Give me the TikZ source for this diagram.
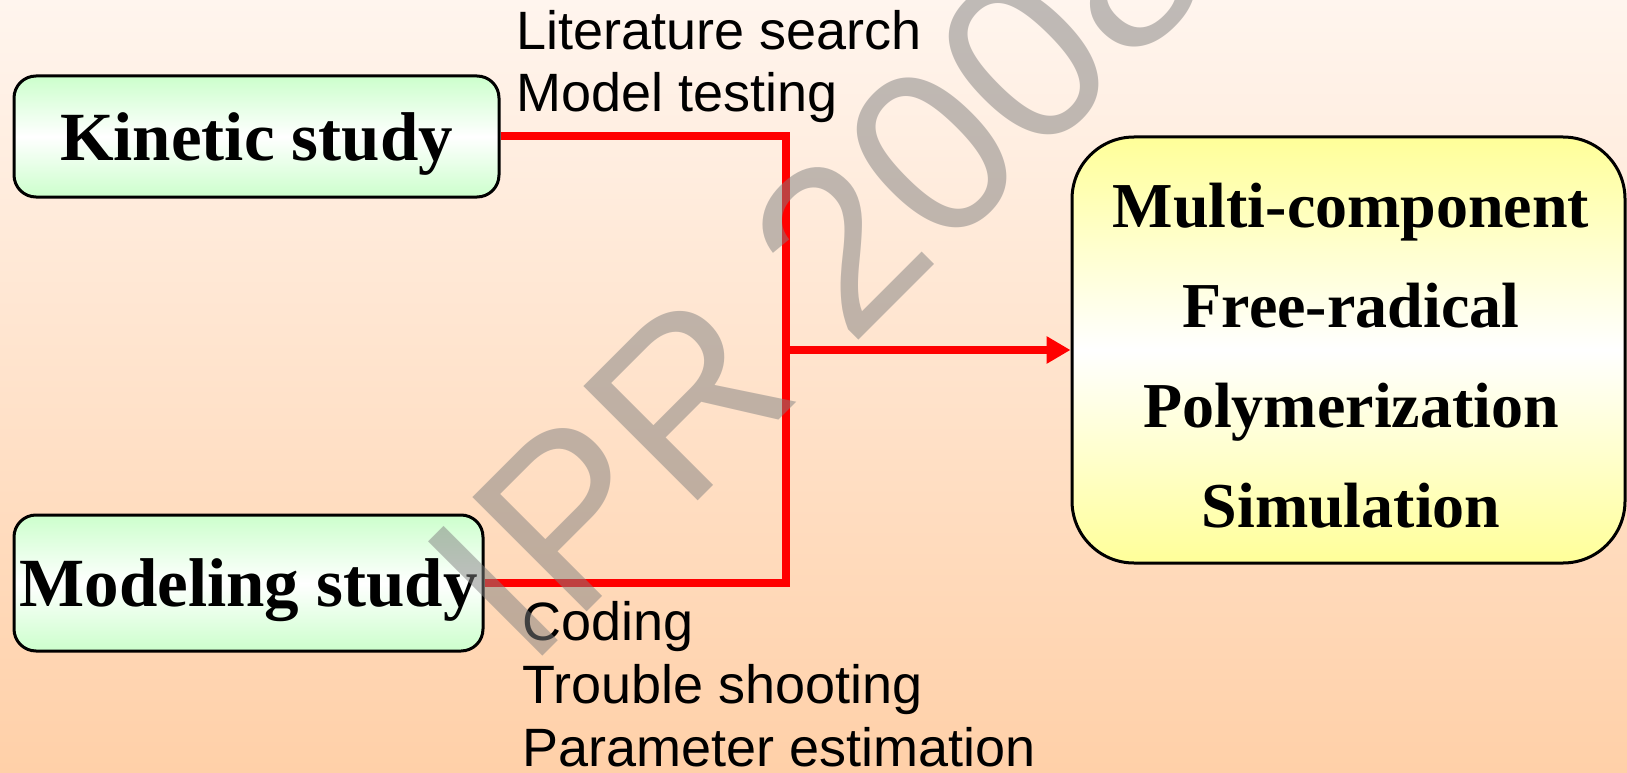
\documentclass[tikz,border=0pt]{standalone}
\usepackage{fontspec}
\setmainfont{Liberation Serif}
\newfontfamily\notefont{Liberation Sans}
\usetikzlibrary{arrows.meta}

\definecolor{bgtop}{HTML}{FFF5EE}
\definecolor{bgbot}{HTML}{FFD0A8}
\definecolor{boxgreen}{HTML}{CCFFCC}
\definecolor{boxyellow}{HTML}{FFFF99}

\begin{document}
\begin{tikzpicture}[x=1pt, y=-1pt,
  study/.style={draw, line width=3pt, rounded corners=22pt, inner sep=0pt,
    top color=boxgreen, bottom color=boxgreen, middle color=white,
    text depth=0pt, font=\fontsize{69}{80}\selectfont\bfseries},
  note/.style={inner sep=0pt, anchor=base west, font=\notefont\fontsize{54}{63}\selectfont},
  link/.style={red, line width=8pt}]
\clip (0,0) rectangle (1627,773);
\shade[top color=bgtop, bottom color=bgbot] (0,0) rectangle (1627,773); % background

\node[study, minimum width=485pt, minimum height=121pt] (kin) at (256.5,136.5) {Kinetic study};
\node[study, minimum width=469pt, minimum height=136pt] (mod) at (248.5,583) {Modeling study};
\node[draw, line width=3pt, rounded corners=62pt, inner sep=0pt,
  minimum width=553pt, minimum height=426pt,
  top color=boxyellow, bottom color=boxyellow, middle color=white] (res) at (1348.5,350) {};
\node[align=center, inner sep=0pt, font=\fontsize{64}{100}\selectfont\bfseries] (restxt) at (1351,356)
  {Multi-component\\Free-radical\\Polymerization\\Simulation};

\coordinate (jn) at (786,350);
\draw[link] (kin.east) -| (jn);
\draw[link] (mod.east) -| (jn);
\draw[link, -{Triangle[length=24pt, width=26pt]}] (jn) -- (res.west);

% labels on the two branches
\node[note] (lit) at (516,50) {Literature search};
\node[note] (tst) at (516,112) {Model testing};
\foreach \t [count=\i] in {Coding, Trouble shooting, Parameter estimation}
  \node[note] (job\i) at (522,{577+63*\i}) {\t};

% watermark
\node[rotate=45, text=gray, opacity=0.5, inner sep=0pt,
  font=\notefont\fontsize{235}{235}\selectfont] (wm) at (817,268) {IPR 2008};
\end{tikzpicture}
\end{document}
